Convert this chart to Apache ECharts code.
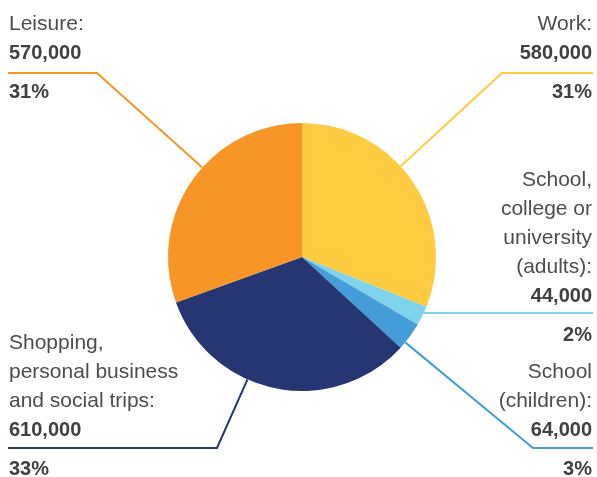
<!DOCTYPE html>
<html>
<head>
<meta charset="utf-8">
<script src="https://cdn.jsdelivr.net/npm/echarts@6/dist/echarts.min.js"></script>
<style>
  html, body { margin: 0; padding: 0; background: #fff; }
  #chart { width: 597px; height: 477px; }
</style>
</head>
<body>
<div id="chart"></div>
<script>
    // trip purposes, clockwise from 12 o'clock
    var categories = [
        'Work:',
        'School,\ncollege or\nuniversity\n(adults):',
        'School\n(children):',
        'Shopping,\npersonal business\nand social trips:',
        'Leisure:'
    ];
    var tripCounts = [580000, 44000, 64000, 610000, 570000];
    var sliceColors = ['#FFCB40', '#7FD3EB', '#449DD9', '#253672', '#F79626'];

    var cx = 302, cy = 257, r = 134;

    // where each label sits: x, first line centre, elbow of the line, end of the line
    var labelPos = [
        { x: 592, align: 'right', top: 24, elbow: [502, 73], end: [593, 73] },
        { x: 592, align: 'right', top: 180, elbow: null, end: [593, 313] },
        { x: 592, align: 'right', top: 372, elbow: [533, 448], end: [593, 448] },
        { x: 9, align: 'left', top: 343, elbow: [217, 448], end: [8, 448] },
        { x: 9, align: 'left', top: 24, elbow: [97, 73], end: [8, 73] }
    ];

    function edgePoint(p) {
        if (!p.elbow) {
            // straight horizontal line out of the slice
            var dy = p.end[1] - cy;
            return [cx + Math.sqrt(r * r - dy * dy), p.end[1]];
        }
        var dx = p.elbow[0] - cx, dy2 = p.elbow[1] - cy;
        var len = Math.sqrt(dx * dx + dy2 * dy2);
        return [cx + r * dx / len, cy + r * dy2 / len];
    }

    var data = categories.map(function (name, i) {
        return { name: name, value: tripCounts[i], itemStyle: { color: sliceColors[i] } };
    });

    var myChart = echarts.init(document.getElementById('chart'));
    var option = {
        animation: false,
        series: [
            {
                type: 'pie',
                center: [cx, cy],
                radius: r,
                startAngle: 90,
                clockwise: true,
                avoidLabelOverlap: false,
                data: data,
                label: {
                    show: true,
                    position: 'outside',
                    fontFamily: '"Liberation Sans", Arial, sans-serif',
                    formatter: function (p) {
                        return '{n|' + p.name + '}\n{v|' + p.value.toLocaleString('en-US') + '}\n{p|' + Math.round(p.percent) + '%}';
                    },
                    rich: {
                        n: { fontSize: 21, lineHeight: 29, color: '#4d4d4d', fontFamily: '"Liberation Sans", Arial, sans-serif' },
                        v: { fontSize: 20, lineHeight: 29, color: '#404040', fontWeight: 'bold', fontFamily: '"Liberation Sans", Arial, sans-serif' },
                        p: { fontSize: 20, lineHeight: 49, color: '#404040', fontWeight: 'bold', fontFamily: '"Liberation Sans", Arial, sans-serif' }
                    }
                },
                labelLine: {
                    show: true,
                    lineStyle: { width: 2 }
                },
                labelLayout: function (params) {
                    var p = labelPos[params.dataIndex];
                    var pts = [edgePoint(p)];
                    if (p.elbow) pts.push(p.elbow);
                    pts.push(p.end);
                    return {
                        x: p.x,
                        y: p.top - 14.5,
                        align: p.align,
                        verticalAlign: 'top',
                        labelLinePoints: pts
                    };
                }
            }
        ]
    };
    myChart.setOption(option);
</script>
</body>
</html>
